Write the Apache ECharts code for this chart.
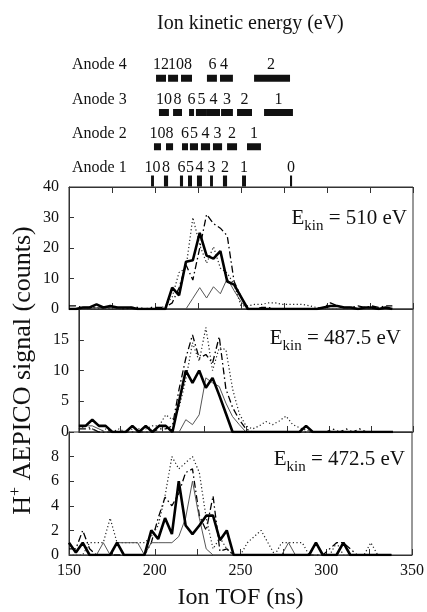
<!DOCTYPE html>
<html>
<head>
<meta charset="utf-8">
<script src="https://cdn.jsdelivr.net/npm/echarts@6/dist/echarts.min.js"></script>
<style>
  html, body { margin: 0; padding: 0; background: #fff; }
  #chart { width: 427px; height: 612px; }
</style>
</head>
<body>
<div id="chart"></div>
<script>
// ion time of flight bins (ns)
var tof = [150,154,158,162,166,170,174,178,182,186,
           190,194,198,202,206,210,214,218,222,226,
           230,234,238,242,246,250,254,258,262,266,
           270,274,278,282,286,290,294,298,302,306,
           310,314,318,322,326,330,334,338];

// Ekin = 510 eV panel
var top_thick = [0,0,0.5,0.5,1.5,0.5,1,0.5,0.5,0.5,
                 0,0,0,0,0,7,4.5,15.5,16,25,
                 17.5,16.5,19,9,8,4,0,0,0,0,
                 0,0,0,0,0,0,0,0.5,1,1,
                 0.5,0.5,0,0.5,0.5,0,0.5,0];
var top_thin = [0,0,0,0,0.5,0.5,0.5,0,0.5,0.5,
                0,0,0,0,0,0,0,0,3.5,7,
                3.6,7.3,5,10,6,2.4,0,0,0,0,
                0,0,0,0,0,0,0,0,0,0,
                0,0,0,0,0,0,0,0];
var top_dot = [0,0,0,0,0,0,0,0,0,0,
               0,0,0,0,1,4,12,13.4,30,21,
               15,20.4,13.4,11.8,8,1,1,1.5,1.5,2,
               2,1.5,1.5,1.5,1.5,1,0.5,0,0,0,
               0,0,0,0,0,0,0,0];
var top_dash = [1,1,0.5,0.5,0.5,0.5,0.5,0.5,0,0.5,
                0.5,0,0.5,0.5,0.5,2,7,14.5,9.5,20,
                31,28,26.5,24,9,4,0,0,0.5,0.5,
                0,0,0,0,0,0,0,0.5,2,1,
                0.5,0.5,1,0.5,1,0.5,1,1];

// Ekin = 487.5 eV panel
var mid_thick = [1,1,2,1,1,0,0,0,1,0,
                 1,0,1,1,0,5,10,8,10,7.2,
                 8.8,6,3,0,0,0,0,0,0,0,
                 0,0,0,0,1,0,0,0,0,0,
                 0,0,0,0,0,0,0,0];
var mid_thin = [1,1,1,0.5,0,0,0,0,0,0,
                0,0,0,0,0,0,2,1.2,2.8,8.8,
                8,7.4,4.7,2.5,1.2,0,0,0,0,0,
                0,0,0,0,0,0,0,0,0,0,
                0,0,0,0,0,0,0,0];
var mid_dot = [0.5,1,0.5,0,0.5,0,0.5,0,0.5,0.5,
               0.5,1,1,2.8,2,4,8.5,14.5,11.5,17,
               10,13.7,13.4,7,3,1,0.5,1,1.7,1.2,
               1.8,2.6,1.2,0.7,0.3,0,0,0,0,0,
               0,0,0,0,0,0,0,0];
var mid_dash = [0.5,0.5,0.5,0,0,0,0,0,0,0,
                0,0,0.5,0.5,1,7,12,15.8,12,12.6,
                11.2,15.5,7,4,2,0.5,0,0,0,0,
                0,0,0,0,0,0,0,0,0.5,0,
                0.5,0,0.5,0,0,0,0,0];

// Ekin = 472.5 eV panel
var bot_thick = [1,0.2,1,0,0,0,0,1,0,0,
                 0,0,2,1.3,3,1.7,6,2.4,1.7,2.4,
                 3.2,3.2,1.2,2,0,0,0,0,0,0,
                 0,0,0,0,0,0,1,0,0,0,
                 1,0,0,0,0,0,0,0];
var bot_thin = [0,0,0,0,0,1,0,1,1,1,
                1,0,1,1,1,1,1.5,3,6,3,
                0.5,0,0,0,0,0,0,0,0,0,
                0,0,1,0,0,0,0,0,0,0,
                0,0,0,0,0,0,0,0];
var bot_dot = [0,0,0,1,1,1,3,1,1,1,
               1,1,1.5,2.4,4.8,8,7,7.5,8,6.7,
               3,0.5,1.4,0.5,0,0,1,1.5,2,1,
               0,1,1,1,1,0,0,0,0,1,
               0,0,0,0,1,0,0,0];
var bot_dash = [0.5,0.5,2,0.5,0,0,0,0,0,0,
                0,0,1,3,4.7,4,5,6.7,7,3.2,
                2,4.8,0.3,0.5,0,0,0,0,0,0,
                0,0,0,0,0,0,0,0,0.5,1,
                1,0.5,0,0,0,0,0,0];

var energyLabels = ['Ekin = 510 eV', 'Ekin = 487.5 eV', 'Ekin = 472.5 eV'];

// anode marks: [energy label, start tof, end tof, label tof]
var anode4 = [['12',200.6,206.4,203.5],['10',207.6,213.4,212.2],['8',215.1,221.5,219.2],
              ['6',230.2,236,233.4],['4',237.8,245.3,240.1],['2',257.6,278.5,267.4]];
var anode3 = [['10',202.3,208.1],['8',210.5,215.7],['6',219.8,222.7],['5',223.8,230.2],
              ['4',230.2,237.8],['3',238.4,245.3],['2',247.7,256.4],['1',263.4,280.2]];
var anode2 = [['10',199.4,203.5],['8',206.4,210.5],['6',215.7,219.2],['5',220.3,225],
              ['4',226.7,232],['3',233.7,239],['2',241.9,247.7],['1',253.5,261.6]];
var anode1 = [['10',197.7,199.4],['8',205.2,207.6],['6',214.5,216.3],['5',219.2,221.5],
              ['4',224.4,227.3],['3',232,233.7],['2',239.5,241.9],['1',250.6,252.9],['0',278.5,279.7]];
var anodeNames = ['Anode 1','Anode 2','Anode 3','Anode 4'];

var serif = "'Liberation Serif', 'DejaVu Serif', serif";
var ink = '#111';
var frame = '#333';

var marks = [];
[anode1, anode2, anode3, anode4].forEach(function (list, k) {
    list.forEach(function (m) {
        var lab = m.length > 3 ? m[3] : (m[1] + m[2]) / 2;
        marks.push({ value: [m[1], m[2], k + 1, lab], label: m[0] });
    });
});

function pairs(arr) {
    return tof.map(function (t, i) { return [t, arr[i]]; });
}

function panelX(g, labels) {
    return {
        type: 'value', gridIndex: g, min: 150, max: 350, interval: 25,
        axisLine: { lineStyle: { color: frame, width: 1 } },
        axisTick: { inside: true, length: 6, lineStyle: { color: frame } },
        splitLine: { show: false },
        axisLabel: {
            show: labels, margin: 8, color: ink, fontFamily: serif, fontSize: 16,
            formatter: function (v) { return v % 50 === 0 ? v : ''; }
        }
    };
}

function panelY(g, max, step, hideTop) {
    return {
        type: 'value', gridIndex: g, min: 0, max: max, interval: step,
        axisLine: { show: true, lineStyle: { color: frame, width: 1 } },
        axisTick: { show: true, inside: true, length: 5, lineStyle: { color: frame } },
        splitLine: { show: false },
        axisLabel: {
            margin: 10, color: ink, fontFamily: serif, fontSize: 16,
            formatter: function (v) { return (hideTop && v === max) ? '' : v; }
        }
    };
}

var styles = {
    thick: { color: '#000', width: 2.6, type: 'solid' },
    thin: { color: '#555', width: 1, type: 'solid' },
    dot: { color: '#222', width: 1.2, type: [1.2, 2.4] },
    dash: { color: '#000', width: 1.3, type: [7, 3, 1.5, 3] }
};

function line(name, arr, g, kind) {
    return {
        name: name, type: 'line', xAxisIndex: g, yAxisIndex: g,
        data: pairs(arr), symbol: 'none', smooth: false,
        lineStyle: styles[kind], z: kind === 'thick' ? 5 : 3,
        clip: true
    };
}

function ekin(text, x, y) {
    return {
        type: 'text', x: x, y: y, z: 10,
        style: {
            text: '{m|E}{s|kin}{m|' + text.slice(4) + '}',
            align: 'right', verticalAlign: 'middle',
            rich: {
                m: { fontFamily: serif, fontSize: 21, lineHeight: 22, verticalAlign: 'top', fill: ink },
                s: { fontFamily: serif, fontSize: 15, lineHeight: 15, padding: [11, 0, 0, 0], verticalAlign: 'top', fill: ink }
            }
        }
    };
}

var option = {
    animation: false,
    backgroundColor: '#fff',
    title: {
        text: 'Ion kinetic energy (eV)',
        left: 152, top: 9,
        textStyle: { fontFamily: serif, fontSize: 20, fontWeight: 'normal', color: ink }
    },
    grid: [
        { left: 69, top: 187, width: 344, height: 122, show: true, borderColor: frame, borderWidth: 1 },
        { left: 69, top: 309, width: 344, height: 123, show: true, borderColor: frame, borderWidth: 1 },
        { left: 69, top: 432, width: 344, height: 123, show: true, borderColor: frame, borderWidth: 1 },
        { left: 69, top: 44, width: 344, height: 143 }
    ],
    xAxis: [
        panelX(0, false),
        panelX(1, false),
        Object.assign(panelX(2, true), {
            name: 'Ion TOF (ns)', nameLocation: 'middle', nameGap: 31,
            nameTextStyle: { fontFamily: serif, fontSize: 24, color: ink }
        }),
        Object.assign(panelX(0, false), { position: 'top' }),
        { type: 'value', gridIndex: 3, min: 150, max: 350, show: false }
    ],
    yAxis: [
        panelY(0, 40, 10, false),
        Object.assign(panelY(1, 20, 5, true), {
            name: '{m|H}{p|+}{m| AEPICO signal (counts)}',
            nameLocation: 'middle', nameRotate: 90, nameGap: 31,
            nameTextStyle: {
                rich: {
                    m: { fontFamily: serif, fontSize: 26, lineHeight: 28, verticalAlign: 'bottom', color: ink },
                    p: { fontFamily: serif, fontSize: 16, lineHeight: 16, padding: [0, 0, 18, 0], verticalAlign: 'top', color: ink }
                }
            }
        }),
        panelY(2, 10, 2, true),
        { type: 'value', gridIndex: 3, min: 0.825, max: 5, show: false }
    ],
    graphic: [
        ekin(energyLabels[0], 407, 219),
        ekin(energyLabels[1], 401, 339),
        ekin(energyLabels[2], 405, 460)
    ],
    series: [
        line('top dash', top_dash, 0, 'dash'),
        line('top dot', top_dot, 0, 'dot'),
        line('top thin', top_thin, 0, 'thin'),
        line('top thick', top_thick, 0, 'thick'),
        line('mid dash', mid_dash, 1, 'dash'),
        line('mid dot', mid_dot, 1, 'dot'),
        line('mid thin', mid_thin, 1, 'thin'),
        line('mid thick', mid_thick, 1, 'thick'),
        line('bot dash', bot_dash, 2, 'dash'),
        line('bot dot', bot_dot, 2, 'dot'),
        line('bot thin', bot_thin, 2, 'thin'),
        line('bot thick', bot_thick, 2, 'thick'),
        {
            type: 'custom', xAxisIndex: 4, yAxisIndex: 3,
            data: marks,
            renderItem: function (params, api) {
                var row = api.value(2);
                var a = api.coord([api.value(0), row]);
                var b = api.coord([api.value(1), row]);
                var lx = api.coord([api.value(3), row])[0];
                var h = row === 1 ? 11 : 7;
                return {
                    type: 'group',
                    children: [
                        { type: 'rect', shape: { x: a[0], y: a[1] - h / 2, width: Math.max(b[0] - a[0], 2), height: h }, style: { fill: ink } },
                        { type: 'text', x: lx, y: a[1] - 13, style: {
                            text: marks[params.dataIndex].label, align: 'center', verticalAlign: 'middle',
                            fontFamily: serif, fontSize: 16, fill: ink } }
                    ]
                };
            }
        },
        {
            type: 'custom', xAxisIndex: 4, yAxisIndex: 3,
            data: anodeNames.map(function (n, k) { return [150, k + 1]; }),
            renderItem: function (params, api) {
                var p = api.coord([api.value(0), api.value(1)]);
                return { type: 'text', x: p[0] + 3, y: p[1] - 13, style: {
                    text: anodeNames[params.dataIndex], align: 'left', verticalAlign: 'middle',
                    fontFamily: serif, fontSize: 16, fill: ink } };
            }
        }
    ]
};

var myChart = echarts.init(document.getElementById('chart'));
myChart.setOption(option);
</script>
</body>
</html>
